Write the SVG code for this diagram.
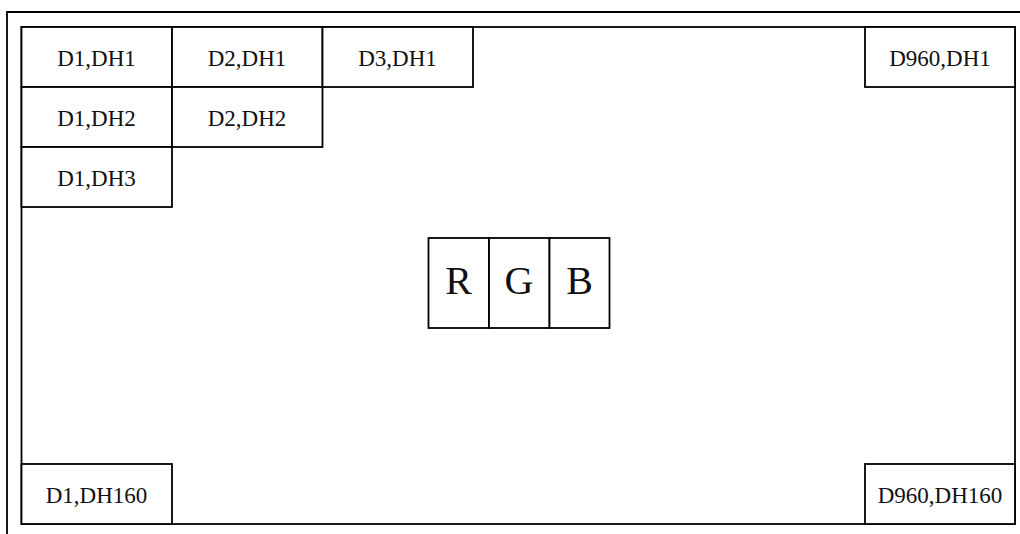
<svg xmlns="http://www.w3.org/2000/svg" width="1020" height="534" viewBox="0 0 1020 534">
<style>
rect{fill:#fff;stroke:#000;stroke-width:1.8}
.f{fill:none;stroke:#000;stroke-width:1.8}
text{font-family:"Liberation Serif","Times New Roman",serif;font-size:23px;fill:#111;text-anchor:middle}
.big{font-size:40px}
</style>
<rect width="1020" height="534" style="stroke:none"/>
<g id="frame">
<path class="f" d="M7,534 V12 H1020"/>
<rect x="21.5" y="27" width="993.5" height="497" style="fill:none"/>
</g>
<g id="c1_1"><rect x="21.5" y="27" width="150.5" height="60"/><text x="96.5" y="66">D1,DH1</text></g>
<g id="c2_1"><rect x="172" y="27" width="150.5" height="60"/><text x="247" y="66">D2,DH1</text></g>
<g id="c3_1"><rect x="322.5" y="27" width="150.5" height="60"/><text x="397.5" y="66">D3,DH1</text></g>
<g id="c960_1"><rect x="865" y="27" width="150" height="60"/><text x="940" y="66">D960,DH1</text></g>
<g id="c1_2"><rect x="21.5" y="87" width="150.5" height="60"/><text x="96.5" y="126">D1,DH2</text></g>
<g id="c2_2"><rect x="172" y="87" width="150.5" height="60"/><text x="247" y="126">D2,DH2</text></g>
<g id="c1_3"><rect x="21.5" y="147" width="150.5" height="60"/><text x="96.5" y="186">D1,DH3</text></g>
<g id="c1_160"><rect x="21.5" y="464" width="150.5" height="60"/><text x="96.5" y="503">D1,DH160</text></g>
<g id="c960_160"><rect x="865" y="464" width="150" height="60"/><text x="940" y="503">D960,DH160</text></g>
<g id="rgb">
<g id="R"><rect x="428.5" y="238" width="60.5" height="90"/><text class="big" x="458.5" y="294">R</text></g>
<g id="G"><rect x="489" y="238" width="60.5" height="90"/><text class="big" x="519" y="294">G</text></g>
<g id="B"><rect x="549.5" y="238" width="60" height="90"/><text class="big" x="579.5" y="294">B</text></g>
</g>
<g id="connectors"/>
</svg>
